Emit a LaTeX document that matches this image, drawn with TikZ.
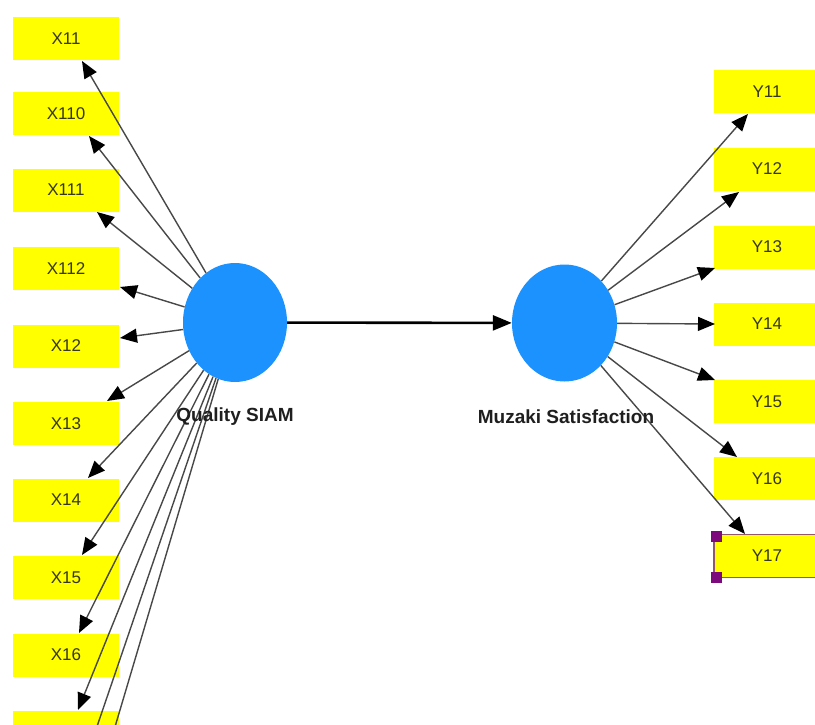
\documentclass[tikz,border=0pt]{standalone}
\usepackage{fontspec}
\setmainfont{Liberation Sans}
\usetikzlibrary{arrows.meta,shapes.geometric}
\definecolor{boxyellow}{RGB}{255,255,0}
\definecolor{latentblue}{RGB}{28,146,255}
\definecolor{linegray}{RGB}{72,72,72}
\definecolor{selpurple}{RGB}{125,10,125}
\definecolor{selborder}{RGB}{150,85,105}
\definecolor{boxtext}{RGB}{55,55,30}
\begin{document}
\begin{tikzpicture}[x=1pt,y=-1pt,
  ind/.style={fill=boxyellow, minimum width=106pt, minimum height=43pt, inner sep=0pt,
    font=\fontsize{17}{17}\selectfont, text=boxtext},
  latent/.style={ellipse, fill=latentblue, inner sep=0pt},
  lbl/.style={font=\bfseries\fontsize{19}{19}\selectfont, text=black!88},
  load/.style={draw=linegray, line width=1.4pt, -{Triangle[length=17pt,width=14pt,color=black]}},
  strpath/.style={draw=black, line width=2.6pt, -{Triangle[length=19pt,width=15pt]}},
  handle/.style={fill=selpurple}]
\useasboundingbox (0,0) rectangle (815,725);
\fill[white] (0,0) rectangle (815,725);
\clip (0,0) rectangle (815,725);

% indicator boxes, left
\node[ind] (x11)  at (66,39)    {X11};
\node[ind] (x110) at (66,113.5) {X110};
\node[ind] (x111) at (66,190)   {X111};
\node[ind] (x112) at (66,268.5) {X112};
\node[ind] (x12)  at (66,346)   {X12};
\node[ind] (x13)  at (66,423.5) {X13};
\node[ind] (x14)  at (66,500)   {X14};
\node[ind] (x15)  at (66,577.5) {X15};
\node[ind] (x16)  at (66,655)   {X16};
\node[ind] (x17)  at (66,732)   {X17};

% indicator boxes, right
\node[ind] (y11) at (767,92)    {Y11};
\node[ind] (y12) at (767,169)   {Y12};
\node[ind] (y13) at (767,247)   {Y13};
\node[ind] (y14) at (767,324)   {Y14};
\node[ind] (y15) at (767,401.5) {Y15};
\node[ind] (y16) at (767,478.5) {Y16};
\node[ind, draw=selborder, line width=1.5pt] (y17) at (767,556) {Y17};
\fill[handle] (710.5,530.5) rectangle (721.5,541.5);
\fill[handle] (710.5,571.5) rectangle (721.5,582.5);

% latent variables
\node[latent, minimum width=104pt, minimum height=119pt] (q) at (235,322.5) {};
\node[latent, minimum width=105pt, minimum height=117pt] (m) at (564.5,323) {};

% arrow tip points
\coordinate (tx11)  at (82,61);
\coordinate (tx110) at (89,136);
\coordinate (tx111) at (97,212);
\coordinate (tx112) at (120,287);
\coordinate (tx12)  at (120,338);
\coordinate (tx13)  at (107,401);
\coordinate (tx14)  at (88,478);
\coordinate (tx15)  at (82,555);
\coordinate (tx16)  at (79,633);
\coordinate (tx17)  at (78,710);
\coordinate (tx18)  at (76,788);
\coordinate (tx19)  at (74,865);

\coordinate (ty11) at (748,114);
\coordinate (ty12) at (739,192);
\coordinate (ty13) at (715,268);
\coordinate (ty14) at (715,324);
\coordinate (ty15) at (715,380);
\coordinate (ty16) at (737,457);
\coordinate (ty17) at (745,534);

% loadings
\foreach \t in {tx11,tx110,tx111,tx112,tx12,tx13,tx14,tx15,tx16,tx17,tx18,tx19}
  \draw[load] (q) -- (\t);
\foreach \t in {ty11,ty12,ty13,ty14,ty15,ty16,ty17}
  \draw[load] (m) -- (\t);

% structural path
\draw[strpath] (q) -- (m);

% labels
\node[lbl] (lq) at (235,417) {Quality SIAM};
\node[lbl] (lm) at (566,417) {Muzaki Satisfaction};
\end{tikzpicture}
\end{document}
